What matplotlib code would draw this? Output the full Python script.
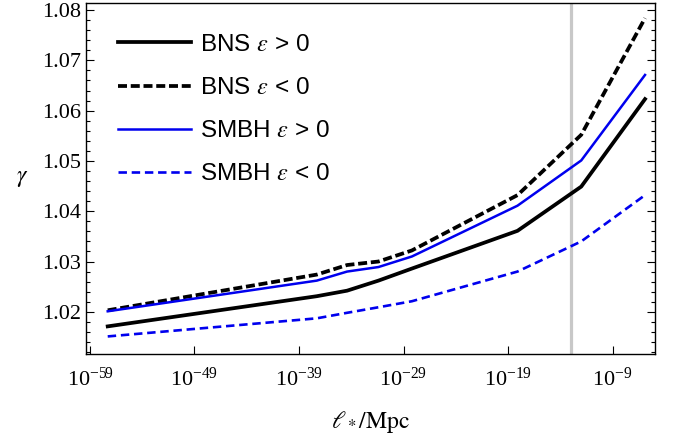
import numpy as np
import matplotlib
matplotlib.use('Agg')
import matplotlib.pyplot as plt
from matplotlib.ticker import FixedLocator, MultipleLocator, LogFormatterSciNotation

plt.rcParams['font.family'] = ['Liberation Serif', 'DejaVu Serif']
plt.rcParams['mathtext.fontset'] = 'stix'

# log10 of l_* in Mpc at the computed points
log_l = [-57.3, -37.3, -34.4, -31.4, -28.2, -18.1, -12.0, -5.9]
l_star = [10.0 ** v for v in log_l]

bns_pos = [1.0171, 1.0231, 1.0242, 1.0262, 1.0286, 1.0361, 1.0449, 1.0623]
bns_neg = [1.0203, 1.0274, 1.0293, 1.0300, 1.0322, 1.0432, 1.0552, 1.0784]
smbh_pos = [1.0201, 1.0262, 1.0280, 1.0289, 1.0310, 1.0411, 1.0501, 1.0671]
smbh_neg = [1.0151, 1.0187, 1.0198, 1.0209, 1.0221, 1.0280, 1.0340, 1.0432]

vline_x = 1e-13
xticks = [1e-59, 1e-49, 1e-39, 1e-29, 1e-19, 1e-9]
yticks = [1.02, 1.03, 1.04, 1.05, 1.06, 1.07, 1.08]

fig = plt.figure(figsize=(6.78, 4.36), dpi=100)
ax = fig.add_axes([0.1268, 0.188, 0.8392, 0.805])

ax.axvline(vline_x, color='#c8c8c8', lw=2.3, zorder=1)

ax.plot(l_star, bns_pos, color='black', lw=2.7, label=r'BNS $\varepsilon$ > 0')
ax.plot(l_star, bns_neg, color='black', lw=2.7, dashes=(2.4, 1.0), label=r'BNS $\varepsilon$ < 0')
ax.plot(l_star, smbh_pos, color='#0000ee', lw=1.8, label=r'SMBH $\varepsilon$ > 0')
ax.plot(l_star, smbh_neg, color='#0000ee', lw=1.9, dashes=(3.2, 1.8), label=r'SMBH $\varepsilon$ < 0')

ax.set_xscale('log')
ax.set_xlim(10 ** -59.38, 10 ** -4.95)
ax.set_ylim(1.0116, 1.0814)

ax.xaxis.set_major_locator(FixedLocator(xticks))
ax.xaxis.set_major_formatter(LogFormatterSciNotation())
ax.xaxis.set_minor_locator(FixedLocator([]))
ax.set_yticks(yticks)
ax.set_yticklabels(['%.2f' % v for v in yticks])
ax.yaxis.set_minor_locator(MultipleLocator(0.002))

ax.tick_params(which='both', direction='in', labelsize=16, width=0.8)
ax.tick_params(axis='y', which='both', right=True)
ax.tick_params(which='major', length=5.5)
ax.tick_params(which='minor', length=3)
ax.tick_params(axis='x', pad=10)
for s in ax.spines.values():
    s.set_linewidth(1.0)

ax.set_ylabel(r'$\gamma$', fontsize=17, rotation=0, labelpad=14, va='center')
ax.set_xlabel(r'$\ell_*/\mathrm{Mpc}$', fontsize=17, labelpad=13)

leg = ax.legend(loc='upper left', bbox_to_anchor=(0.056, 0.912), frameon=False,
                borderaxespad=0, borderpad=0, handlelength=3.0, handletextpad=0.4,
                labelspacing=0.87, prop={'family': 'Liberation Sans', 'size': 17.5})

fig.savefig('out.png', dpi=100)
